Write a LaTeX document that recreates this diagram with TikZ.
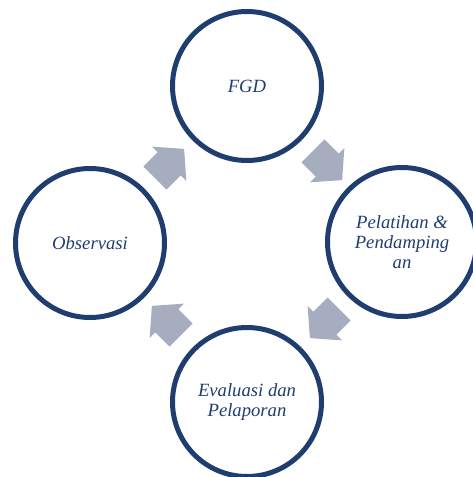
\documentclass[tikz,border=0pt]{standalone}
\usepackage{fontspec}
\setmainfont{Liberation Serif}
\usetikzlibrary{shapes.arrows}
\definecolor{ringblue}{HTML}{1F3D6E}
\definecolor{arrgray}{HTML}{A6ADBF}
\tikzset{st/.style = {circle, line width=3.75pt, draw=ringblue, minimum size=111.75pt, inner sep=0pt,
                      text=ringblue, align=center, font=\fontsize{14}{15}\selectfont\itshape},
           ar/.style = {single arrow, fill=arrgray, draw=none, inner xsep=0pt, inner ysep=12pt,
                      minimum height=31pt, single arrow head extend=6pt, single arrow tip angle=98}}

\begin{document}
\begin{tikzpicture}[x=0.75pt, y=-0.75pt]
    \useasboundingbox (0,0) rectangle (472,477);
    \node[st] (fgd) at (247,86) {FGD};
    \node[st] (pel) at (402,242) {Pelatihan \&\\Pendamping\\an};
    \node[st] (eva) at (247,402) {Evaluasi dan\\Pelaporan};
    \node[st] (obs) at (90,243) {Observasi};
    \node[ar, rotate=45]   (a1) at (164.5,168.5) {};
    \node[ar, rotate=-45]  (a2) at (322.5,160.5) {};
    \node[ar, rotate=-135] (a3) at (329.5,318.5) {};
    \node[ar, rotate=135]  (a4) at (171.5,325.5) {};
  \end{tikzpicture}
\end{document}
